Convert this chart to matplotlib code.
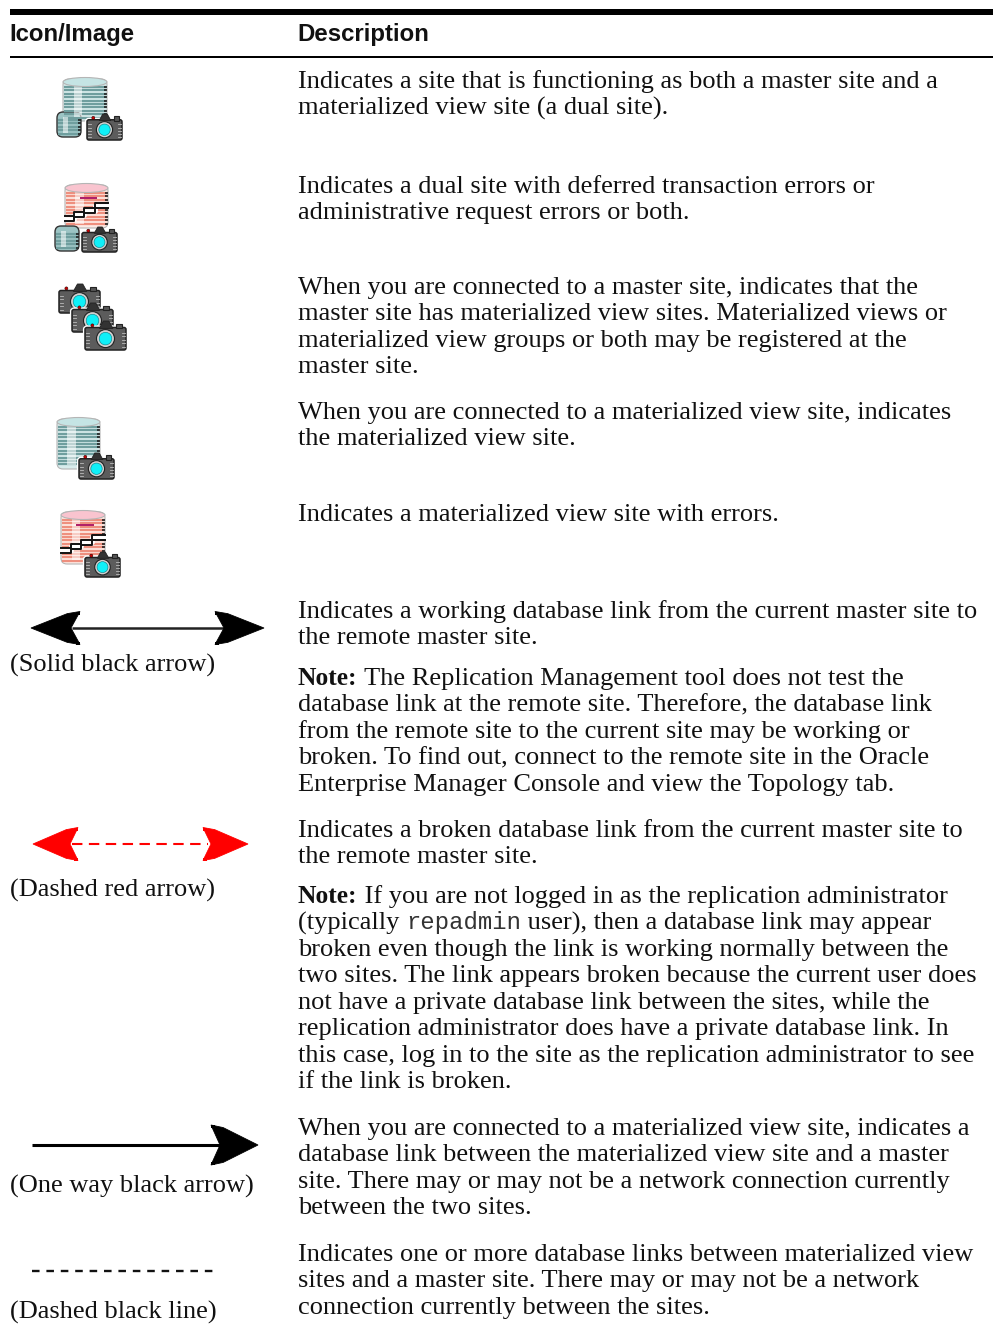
import matplotlib
matplotlib.use("Agg")
import matplotlib.pyplot as plt
from matplotlib.patches import Ellipse, Rectangle, Circle, Polygon, FancyBboxPatch

W, H = 993, 1328
SERIF = "Liberation Serif"
BODY_PT = 19.0

headers = ["Icon/Image", "Description"]

# each entry: first line y (centre), then the lines. a line may be a list of (text, style)
desc_blocks = [
    (80, ["Indicates a site that is functioning as both a master site and a",
          "materialized view site (a dual site)."]),
    (185, ["Indicates a dual site with deferred transaction errors or",
           "administrative request errors or both."]),
    (286, ["When you are connected to a master site, indicates that the",
           "master site has materialized view sites. Materialized views or",
           "materialized view groups or both may be registered at the",
           "master site."]),
    (411, ["When you are connected to a materialized view site, indicates",
           "the materialized view site."]),
    (513, ["Indicates a materialized view site with errors."]),
    (610, ["Indicates a working database link from the current master site to",
           "the remote master site."]),
    (677, [[("Note:", "b"), (" The Replication Management tool does not test the", "r")],
           "database link at the remote site. Therefore, the database link",
           "from the remote site to the current site may be working or",
           "broken. To find out, connect to the remote site in the Oracle",
           "Enterprise Manager Console and view the Topology tab."]),
    (829, ["Indicates a broken database link from the current master site to",
           "the remote master site."]),
    (895, [[("Note:", "b"), (" If you are not logged in as the replication administrator", "r")],
           [("(typically ", "r"), ("repadmin", "m"), (" user), then a database link may appear", "r")],
           "broken even though the link is working normally between the",
           "two sites. The link appears broken because the current user does",
           "not have a private database link between the sites, while the",
           "replication administrator does have a private database link. In",
           "this case, log in to the site as the replication administrator to see",
           "if the link is broken."]),
    (1127, ["When you are connected to a materialized view site, indicates a",
            "database link between the materialized view site and a master",
            "site. There may or may not be a network connection currently",
            "between the two sites."]),
    (1253, ["Indicates one or more database links between materialized view",
            "sites and a master site. There may or may not be a network",
            "connection currently between the sites."]),
]

arrow_captions = ["(Solid black arrow)", "(Dashed red arrow)", "(One way black arrow)", "(Dashed black line)"]
caption_y = [664, 889, 1185, 1311]

fig = plt.figure(figsize=(W / 100, H / 100), dpi=100)
ax = fig.add_axes([0, 0, 1, 1])
ax.set_xlim(0, W)
ax.set_ylim(H, 0)
ax.axis("off")


def put_line(x, y, parts):
    # write the pieces of a line one after the other, measuring each
    if isinstance(parts, str):
        parts = [(parts, "r")]
    rend = fig.canvas.get_renderer()
    for txt, style in parts:
        kw = dict(family=SERIF, fontsize=BODY_PT, color="#111111")
        if style == "b":
            kw["fontweight"] = "bold"
            kw["fontsize"] = BODY_PT - 0.6
        if style == "m":
            kw = dict(family="Liberation Mono", fontsize=17.2, color="#333333")
        ax.text(x, y + 8, txt, va="baseline", ha="left", **kw)
        # spaces at the ends are not measured, so add them by hand
        probe = ax.text(0, 0, txt.replace(" ", "\u00a0"), **kw)
        x += probe.get_window_extent(rend).width
        probe.remove()


def database(x0, x1, y0, y1, err=False, small=False):
    cols = ("#ee8f7e", "#fde9e4", "#f9c4cf") if err else ("#6f9e9e", "#d8ecec", "#c5e4e4")
    w = x1 - x0
    edge = "#333333" if small else "#b5b5b5"
    body = "#9cc4c4" if small else cols[1]
    ax.add_patch(FancyBboxPatch((x0, y0 + 2), w, y1 - y0 - 3, boxstyle="round,pad=0,rounding_size=6", fc=body, ec=edge, lw=1.0 if small else .8, zorder=2))
    y = y0 + 10
    while y < y1 - 3:
        ax.plot([x0 + 1, x1 - 1], [y, y], color=cols[0], lw=1.6, zorder=3, solid_capstyle="butt")
        ax.plot([x1 - 3.5, x1], [y, y], color="#222222", lw=1.2, zorder=3, solid_capstyle="butt")
        y += 3.4
    # highlight down the left part
    ax.add_patch(Rectangle((x0 + w * .24, y0 + 7), w * .2, y1 - y0 - 12, fc="white", ec="none", alpha=0.55, zorder=4))
    if not small:
        ax.add_patch(Ellipse(((x0 + x1) / 2, y0 + 5), w, 9, fc=cols[2], ec="#b5b5b5", lw=.8, zorder=4))
    if err:
        ym = (y0 + y1) * 0.5 + 2
        bolt_x = [x0, x0 + .22 * w, x0 + .22 * w, x0 + .45 * w, x0 + .45 * w, x0 + .7 * w, x0 + .7 * w, x1]
        bolt_y = [ym + 6, ym + 6, ym + 2, ym + 2, ym - 2, ym - 2, ym - 7, ym - 7]
        ax.plot(bolt_x, [b + 4.5 for b in bolt_y], color="white", lw=3.5, zorder=6)
        ax.plot(bolt_x, [b + 2 for b in bolt_y], color="#111111", lw=1.4, zorder=7)
        ax.plot(bolt_x, [b + 7 for b in bolt_y], color="#111111", lw=1.4, zorder=7)
        ax.add_patch(Rectangle((x0 + .35 * w, y0 + 14), .4 * w, 2, fc="#b0206a", ec="none", zorder=7))


def camera(x0, x1, y0, y1, z=10, lens="#10f0f8"):
    w, h = x1 - x0, y1 - y0
    # white halo, body, hump on top
    ax.add_patch(FancyBboxPatch((x0, y0 + h * .25), w, h * .75, boxstyle="round,pad=0,rounding_size=2", fc="#5c5c5c", ec="white", lw=3, zorder=z))
    ax.add_patch(FancyBboxPatch((x0, y0 + h * .25), w, h * .75, boxstyle="round,pad=0,rounding_size=2", fc="#5c5c5c", ec="#222222", lw=1.1, zorder=z + .1))
    ax.add_patch(Polygon([(x0 + w * .35, y0 + h * .28), (x0 + w * .45, y0 + 1), (x0 + w * .58, y0 + 1), (x0 + w * .68, y0 + h * .28)], fc="#333333", ec="#222222", lw=.6, zorder=z + .2))
    ax.add_patch(Rectangle((x0 + w * .76, y0 + h * .12), w * .14, h * .16, fc="#555555", ec="#222222", lw=.8, zorder=z + .2))
    ax.add_patch(Circle((x0 + w * .18, y0 + h * .18), 1.5, fc="#cc0000", ec="#330000", lw=.4, zorder=z + .3))
    for k in range(5):
        yy = y0 + h * (.42 + k * .12)
        ax.plot([x0 + 1, x0 + 4], [yy, yy], color="#bbbbbb", lw=.6, zorder=z + .2)
        ax.plot([x1 - 4, x1 - 1], [yy, yy], color="#bbbbbb", lw=.6, zorder=z + .2)
    cx, cy = x0 + w * .5, y0 + h * .62
    ax.add_patch(Circle((cx, cy), h * .3, fc="#d0d0d0", ec="#222222", lw=.8, zorder=z + .3))
    ax.add_patch(Circle((cx, cy), h * .21, fc=lens, ec="#0a7a80", lw=.4, zorder=z + .4))


def arrow_head(tip, back, notch, y, half, col):
    # barbed head, a bit fuller than a plain triangle
    s = 1 if back > tip else -1
    bulge = tip + (back - tip) * .74
    pts = [(tip, y), (bulge, y - half * .87), (back, y - half), (notch, y),
           (back, y + half), (bulge, y + half * .87)]
    ax.add_patch(Polygon(pts, fc=col, ec=col, lw=.6, zorder=5))
    ax.add_patch(Rectangle((min(back, back - s * 4), y - half), 4, 3, fc=col, ec="none", zorder=5))
    ax.add_patch(Rectangle((min(back, back - s * 4), y + half - 3), 4, 3, fc=col, ec="none", zorder=5))


# header and rules
ax.add_patch(Rectangle((10, 9), W - 10, 6, fc="black", ec="none"))
ax.add_patch(Rectangle((10, 56), W - 10, 2, fc="black", ec="none"))
ax.text(9.5, 41.5, headers[0], family="Liberation Sans", fontweight="bold", fontsize=17.3, va="baseline", color="#111111")
ax.text(297.5, 41.5, headers[1], family="Liberation Sans", fontweight="bold", fontsize=17.3, va="baseline", color="#111111")

# description column
for y_first, lines in desc_blocks:
    for i, line in enumerate(lines):
        put_line(298, y_first + i * 26.45, line)

# icons
database(63, 107, 77, 122)
database(57, 81, 110, 138, small=True)
camera(87, 122, 113, 140)

database(65, 108, 183, 229, err=True)
database(55, 79, 224, 252, small=True)
camera(82, 117, 226, 252)

camera(59, 100, 283, 313, z=10)
camera(72, 113, 302, 332, z=11)
camera(85, 126, 320, 350, z=12)

database(57, 100, 417, 470)
camera(79, 114, 452, 479)

database(61, 105, 510, 565, err=True)
camera(85, 120, 551, 577)

# arrows
ax.plot([72, 224], [628, 628], color="#222222", lw=1.8, zorder=4, solid_capstyle="butt")
arrow_head(31, 80, 71, 628, 16.5, "black")
arrow_head(264, 215, 224, 628, 16.5, "black")

ax.plot([72, 208], [844, 844], color="#ff0000", lw=1.5, dashes=(5, 3.1), zorder=4, dash_capstyle="butt")
arrow_head(33, 78, 70, 844, 16.5, "#ff0000")
arrow_head(248, 203, 211, 844, 16.5, "#ff0000")

ax.plot([32, 222], [1145, 1145], color="black", lw=2.2, zorder=4, solid_capstyle="butt")
arrow_head(258, 211, 220, 1145, 20, "black")

ax.plot([32, 217], [1271, 1271], color="#111111", lw=1.7, dashes=(3.2, 2.9), zorder=4, dash_capstyle="butt")

for cap, yc in zip(arrow_captions, caption_y):
    put_line(10, yc, cap)

fig.savefig("out.png", dpi=100, facecolor="white")
